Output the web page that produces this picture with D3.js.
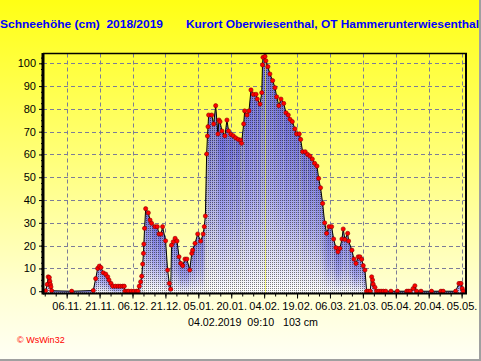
<!DOCTYPE html>
<html>
<head>
<meta charset="utf-8">
<script src="https://cdn.jsdelivr.net/npm/d3@7"></script>
<style>
	body { margin: 0; overflow: hidden; background: #fff; }
	text { font-family: "Liberation Sans", Arial, sans-serif; white-space: pre; }
</style>
</head>
<body>
<div class="snow-chart"></div>
<script>

var TITLE = "Schneehöhe (cm)  2018/2019";
var STATION = "Kurort Oberwiesenthal, OT Hammerunterwiesenthal";
var MAX_LABEL = "04.02.2019  09:10   103 cm";
var MAX_TIME = "04.02.2019 09:10";
var CREDIT = "© WsWin32";

// readings: time and snow depth (cm)
var times = [
	"27.10.2018 10:00", "28.10.2018 03:00", "28.10.2018 14:00", "29.10.2018 02:00", "29.10.2018 08:00",
	"29.10.2018 14:00", "29.10.2018 20:00", "30.10.2018 04:00", "08.11.2018 07:00", "18.11.2018 03:00",
	"19.11.2018 05:00", "20.11.2018 03:00", "20.11.2018 21:00", "21.11.2018 15:00", "22.11.2018 16:00",
	"23.11.2018 19:00", "24.11.2018 17:00", "25.11.2018 07:00", "26.11.2018 05:00", "27.11.2018 00:00",
	"28.11.2018 06:00", "29.11.2018 10:00", "30.11.2018 10:00", "01.12.2018 12:00", "02.12.2018 06:00",
	"02.12.2018 14:00", "03.12.2018 12:00", "04.12.2018 06:00", "05.12.2018 12:00", "06.12.2018 14:00",
	"07.12.2018 20:00", "08.12.2018 12:00", "09.12.2018 02:00", "09.12.2018 17:00", "10.12.2018 05:00",
	"10.12.2018 15:00", "11.12.2018 00:00", "11.12.2018 04:00", "11.12.2018 12:00", "12.12.2018 00:00",
	"13.12.2018 05:00", "14.12.2018 00:00", "14.12.2018 17:00", "16.12.2018 05:00", "17.12.2018 07:00",
	"18.12.2018 02:00", "19.12.2018 00:00", "19.12.2018 17:00", "21.12.2018 02:00", "22.12.2018 00:00",
	"22.12.2018 19:00", "23.12.2018 10:00", "23.12.2018 19:00", "24.12.2018 14:00", "25.12.2018 10:00",
	"26.12.2018 07:00", "27.12.2018 05:00", "28.12.2018 00:00", "28.12.2018 21:00", "29.12.2018 22:00",
	"30.12.2018 19:00", "01.01.2019 02:00", "02.01.2019 00:00", "02.01.2019 10:00", "03.01.2019 12:00",
	"04.01.2019 17:00", "06.01.2019 02:00", "07.01.2019 05:00", "07.01.2019 17:00", "08.01.2019 05:00",
	"08.01.2019 19:00", "09.01.2019 04:00", "09.01.2019 10:00", "09.01.2019 17:00", "11.01.2019 02:00",
	"12.01.2019 00:00", "12.01.2019 22:00", "13.01.2019 22:00", "14.01.2019 10:00", "14.01.2019 21:00",
	"15.01.2019 19:00", "17.01.2019 03:00", "18.01.2019 01:00", "18.01.2019 19:00", "19.01.2019 21:00",
	"20.01.2019 22:00", "22.01.2019 00:00", "23.01.2019 04:00", "24.01.2019 07:00", "24.01.2019 17:00",
	"25.01.2019 16:00", "26.01.2019 03:00", "27.01.2019 05:00", "28.01.2019 02:00", "29.01.2019 00:00",
	"30.01.2019 01:00", "31.01.2019 07:00", "31.01.2019 21:00", "02.02.2019 03:00", "02.02.2019 22:00",
	"03.02.2019 06:00", "03.02.2019 12:00", "04.02.2019 09:10", "04.02.2019 19:00", "05.02.2019 17:00",
	"06.02.2019 15:00", "07.02.2019 21:00", "08.02.2019 23:00", "09.02.2019 17:00", "10.02.2019 17:00",
	"11.02.2019 16:00", "12.02.2019 22:00", "13.02.2019 23:00", "15.02.2019 00:00", "15.02.2019 19:00",
	"16.02.2019 20:00", "18.02.2019 01:00", "18.02.2019 19:00", "20.02.2019 00:00", "20.02.2019 15:00",
	"21.02.2019 13:00", "22.02.2019 17:00", "23.02.2019 19:00", "24.02.2019 21:00", "25.02.2019 23:00",
	"27.02.2019 00:00", "28.02.2019 02:00", "28.02.2019 20:00", "01.03.2019 17:00", "02.03.2019 16:00",
	"03.03.2019 14:00", "04.03.2019 12:00", "05.03.2019 13:00", "06.03.2019 18:00", "07.03.2019 16:00",
	"08.03.2019 17:00", "09.03.2019 15:00", "10.03.2019 13:00", "11.03.2019 11:00", "12.03.2019 01:00",
	"12.03.2019 19:00", "14.03.2019 02:00", "14.03.2019 12:00", "16.03.2019 00:00", "16.03.2019 22:00",
	"17.03.2019 20:00", "18.03.2019 21:00", "19.03.2019 16:00", "20.03.2019 10:00", "21.03.2019 04:00",
	"21.03.2019 23:00", "22.03.2019 17:00", "23.03.2019 12:00", "24.03.2019 08:00", "25.03.2019 00:00",
	"25.03.2019 10:00", "25.03.2019 17:00", "26.03.2019 12:00", "27.03.2019 07:00", "28.03.2019 07:00",
	"29.03.2019 07:00", "30.03.2019 07:00", "31.03.2019 10:00", "02.04.2019 19:00", "05.04.2019 17:00",
	"10.04.2019 00:00", "10.04.2019 17:00", "11.04.2019 12:00", "12.04.2019 22:00", "13.04.2019 17:00",
	"14.04.2019 12:00", "16.04.2019 12:00", "21.04.2019 07:00", "25.04.2019 14:00", "26.04.2019 14:00",
	"02.05.2019 07:00", "03.05.2019 19:00", "04.05.2019 17:00", "05.05.2019 07:00", "05.05.2019 17:00"
];

var depths = [
	0.2, 3, 6.3, 6, 4.4,
	3, 1.9, 0.2, 0, 0.3,
	5.5, 10, 11, 10.4, 8.1,
	7.5, 6.3, 4.9, 3.4, 2.2,
	2.2, 2.2, 2.2, 2.2, 2.2,
	0, 0, 0, 0, 0,
	0, 0, 2.2, 4.1, 6.6,
	11.9, 16.6, 20.7, 27.6, 36.2,
	34.4, 31.2, 29.8, 28.3, 28.3,
	25.1, 25.1, 28.3, 22.1, 9.3,
	3.4, 0.9, 20.2, 21.7, 23.2,
	22, 15.1, 12.2, 11.2, 14.1,
	14.1, 9.3, 16.6, 18, 21,
	25.1, 22, 25.1, 28.3, 33,
	60.2, 68.1, 72.2, 77.3, 77.3,
	73.4, 81.4, 69, 75.1, 74.4,
	70.3, 68.2, 75.1, 70.3, 68.8,
	68.2, 67.3, 66.6, 66.3, 64.9,
	73.4, 79.1, 77.3, 79.1, 88.3,
	86.4, 86.4, 84.3, 82.1, 87.1,
	99.3, 102.6, 103, 101.1, 98.5,
	95.3, 92.4, 89.3, 85.3, 81.4,
	84.3, 82.4, 78.3, 77.3, 75.4,
	74.4, 71.2, 69, 69, 66.6,
	61.2, 61.2, 60, 59.3, 58,
	56.1, 54.9, 49.5, 45.4, 38.5,
	30, 25.4, 28.3, 28.3, 22.9,
	19.1, 17.3, 18.8, 22.9, 27.3,
	22.7, 25.4, 22, 18, 14.1,
	12.2, 15.1, 15.1, 14, 11.2,
	9.3, 0, 0, 0, 6.3,
	4.9, 3.1, 1.7, 0, 0,
	0, 0, 0, 0, 0,
	0, 0, 0, 1.2, 2.4,
	0, 0, 0, 0, 0,
	0, 3.4, 3.4, 1.2, 0
];

var xTickDates = [
	"06.11.2018", "21.11.2018", "06.12.2018", "21.12.2018", "05.01.2019", "20.01.2019", "04.02.2019",
	"19.02.2019", "06.03.2019", "21.03.2019", "05.04.2019", "20.04.2019", "05.05.2019"
];
var yTicks = [0, 10, 20, 30, 40, 50, 60, 70, 80, 90, 100];

var W = 481, H = 361;
var plot = { left : 43, right : 466, top : 53.5, bottom : 293.5 };

var parseTime = d3.timeParse("%d.%m.%Y %H:%M");
var parseDay = d3.timeParse("%d.%m.%Y");
var fmtTick = d3.timeFormat("%d.%m.");

var data = times.map(function ( t, i ) {
	return { date : parseTime(t), depth : depths[i] };
});
var tickDates = xTickDates.map(parseDay);

var svg = d3.select(".snow-chart").append("svg")
	.attr("width", W)
	.attr("height", H);

var defs = svg.append("defs");

// page background: yellow fading to pale
var bg = defs.append("linearGradient")
	.attr("id", "bgFade")
	.attr("x1", 0).attr("y1", 0).attr("x2", 0).attr("y2", 1);
bg.append("stop").attr("offset", 0).attr("stop-color", "#ffff14");
bg.append("stop").attr("offset", 0.45).attr("stop-color", "#ffff7c");
bg.append("stop").attr("offset", 0.8).attr("stop-color", "#ffffd2");
bg.append("stop").attr("offset", 1).attr("stop-color", "#fffff6");

// each column fades blue -> white
var col = defs.append("linearGradient")
	.attr("id", "colFade")
	.attr("x1", 0).attr("y1", 0).attr("x2", 0).attr("y2", 1);
col.append("stop").attr("offset", 0).attr("stop-color", "#6c6cdc");
col.append("stop").attr("offset", 0.55).attr("stop-color", "#a8a8f0");
col.append("stop").attr("offset", 1).attr("stop-color", "#ffffff");

var dots = defs.append("pattern")
	.attr("id", "dots")
	.attr("patternUnits", "userSpaceOnUse")
	.attr("width", 2).attr("height", 2);
dots.append("rect").attr("width", 1).attr("height", 1).attr("fill", "#000").attr("fill-opacity", 0.5);

svg.append("rect")
	.attr("width", W).attr("height", H)
	.attr("fill", "url(#bgFade)");

var x = d3.scaleTime()
	.domain([parseTime("26.10.2018 05:00"), parseTime("07.05.2019 00:00")])
	.range([plot.left, plot.right]);

var y = d3.scaleLinear()
	.domain([-1, 104.3])
	.range([plot.bottom, plot.top]);

// grid
var grid = svg.append("g")
	.attr("stroke", "#7c7c98")
	.attr("stroke-width", 1)
	.attr("stroke-dasharray", "4,3");

grid.selectAll(".hgrid")
	.data(yTicks)
	.enter()
	.append("line")
	.attr("x1", plot.left).attr("x2", plot.right)
	.attr("y1", function ( d ) { return Math.round(y(d)) + 0.5; })
	.attr("y2", function ( d ) { return Math.round(y(d)) + 0.5; });

grid.selectAll(".vgrid")
	.data(tickDates)
	.enter()
	.append("line")
	.attr("y1", plot.top).attr("y2", plot.bottom)
	.attr("x1", function ( d ) { return Math.round(x(d)) + 0.5; })
	.attr("x2", function ( d ) { return Math.round(x(d)) + 0.5; });

// snow area, one piece per pair of readings so every column gets its own fade
var area = d3.area()
	.x(function ( d ) { return x(d.date); })
	.y0(y(-1))
	.y1(function ( d ) { return y(d.depth); });

svg.append("g")
	.selectAll("path")
	.data(d3.pairs(data))
	.enter()
	.append("path")
	.attr("d", area)
	.attr("fill", "url(#colFade)");

svg.append("path")
	.datum(data)
	.attr("d", area)
	.attr("fill", "url(#dots)");

svg.append("path")
	.datum(data)
	.attr("d", d3.line()
		.x(function ( d ) { return x(d.date); })
		.y(function ( d ) { return y(d.depth); }))
	.attr("fill", "none")
	.attr("stroke", "#000")
	.attr("stroke-width", 1);

// cursor at the maximum
var maxX = Math.round(x(parseTime(MAX_TIME))) + 0.5;
svg.append("line")
	.attr("x1", maxX).attr("x2", maxX)
	.attr("y1", plot.top).attr("y2", plot.bottom)
	.attr("stroke", "#ffff00")
	.attr("stroke-width", 1)
	.attr("stroke-dasharray", "1,1");
svg.append("rect")
	.attr("x", maxX - 1).attr("y", plot.top + 1)
	.attr("width", 2).attr("height", 2)
	.attr("fill", "#00c000");

svg.append("g")
	.selectAll("circle")
	.data(data)
	.enter()
	.append("circle")
	.attr("cx", function ( d ) { return x(d.date); })
	.attr("cy", function ( d ) { return y(d.depth); })
	.attr("r", 2.1)
	.attr("fill", "#ff0000")
	.attr("stroke", "#8a0000")
	.attr("stroke-width", 0.6);

// axes
var yAxis = svg.append("g")
	.attr("transform", "translate(" + plot.left + ",0)")
	.call(d3.axisLeft(y).tickValues(yTicks).tickSize(4).tickSizeOuter(0).tickPadding(3));
yAxis.select(".domain").remove();
yAxis.selectAll("text")
	.attr("font-size", "11px")
	.attr("fill", "#000")
	.attr("font-family", "'Liberation Sans', Arial, sans-serif");

var yMinor = svg.append("g")
	.attr("transform", "translate(" + plot.left + ",0)")
	.call(d3.axisLeft(y).tickValues(d3.range(0, 104, 2.5)).tickSize(2).tickFormat(""));
yMinor.select(".domain").remove();

var minorDays = d3.range(-2, 37).map(function ( k ) {
	return d3.timeDay.offset(tickDates[0], k * 5);
});

var xMinor = svg.append("g")
	.attr("transform", "translate(0," + plot.bottom + ")")
	.call(d3.axisBottom(x).tickValues(minorDays).tickSize(3).tickFormat(""));
xMinor.select(".domain").remove();

var xAxis = svg.append("g")
	.attr("transform", "translate(0," + plot.bottom + ")")
	.call(d3.axisBottom(x).tickValues(tickDates).tickSize(5).tickSizeOuter(0).tickPadding(4).tickFormat(fmtTick));
xAxis.select(".domain").remove();
xAxis.selectAll("text")
	.attr("font-size", "11px")
	.attr("fill", "#000")
	.attr("font-family", "'Liberation Sans', Arial, sans-serif");

// frame of the plot
svg.append("line")
	.attr("x1", plot.left).attr("x2", plot.left)
	.attr("y1", plot.top - 0.5).attr("y2", plot.bottom + 1)
	.attr("stroke", "#000").attr("stroke-width", 3);
svg.append("line")
	.attr("x1", plot.left).attr("x2", plot.right + 1)
	.attr("y1", plot.bottom).attr("y2", plot.bottom)
	.attr("stroke", "#000").attr("stroke-width", 2);
svg.append("line")
	.attr("x1", plot.left).attr("x2", plot.right + 1)
	.attr("y1", plot.top).attr("y2", plot.top)
	.attr("stroke", "#000").attr("stroke-width", 1.5);
svg.append("line")
	.attr("x1", plot.right).attr("x2", plot.right)
	.attr("y1", plot.top).attr("y2", plot.bottom)
	.attr("stroke", "#000").attr("stroke-width", 2);

// texts
svg.append("text")
	.attr("x", 0).attr("y", 28)
	.attr("font-size", "11px").attr("font-weight", "bold")
	.attr("fill", "#0000ff")
	.attr("textLength", 163).attr("lengthAdjust", "spacingAndGlyphs")
	.text(TITLE);

svg.append("text")
	.attr("x", 186).attr("y", 28)
	.attr("font-size", "11px").attr("font-weight", "bold")
	.attr("fill", "#0000ff")
	.attr("textLength", 293).attr("lengthAdjust", "spacingAndGlyphs")
	.text(STATION);

svg.append("text")
	.attr("x", 188).attr("y", 326)
	.attr("font-size", "11px")
	.attr("fill", "#000")
	.attr("textLength", 130).attr("lengthAdjust", "spacingAndGlyphs")
	.text(MAX_LABEL);

svg.append("text")
	.attr("x", 17).attr("y", 343)
	.attr("font-size", "9px")
	.attr("fill", "#ff0000")
	.text(CREDIT);

// window edge
svg.append("line")
	.attr("x1", 480).attr("x2", 480).attr("y1", 0).attr("y2", H)
	.attr("stroke", "#a0a0a0").attr("stroke-width", 2);
svg.append("line")
	.attr("x1", 0).attr("x2", W).attr("y1", 360).attr("y2", 360)
	.attr("stroke", "#a0a0a0").attr("stroke-width", 2);

</script>
</body>
</html>
